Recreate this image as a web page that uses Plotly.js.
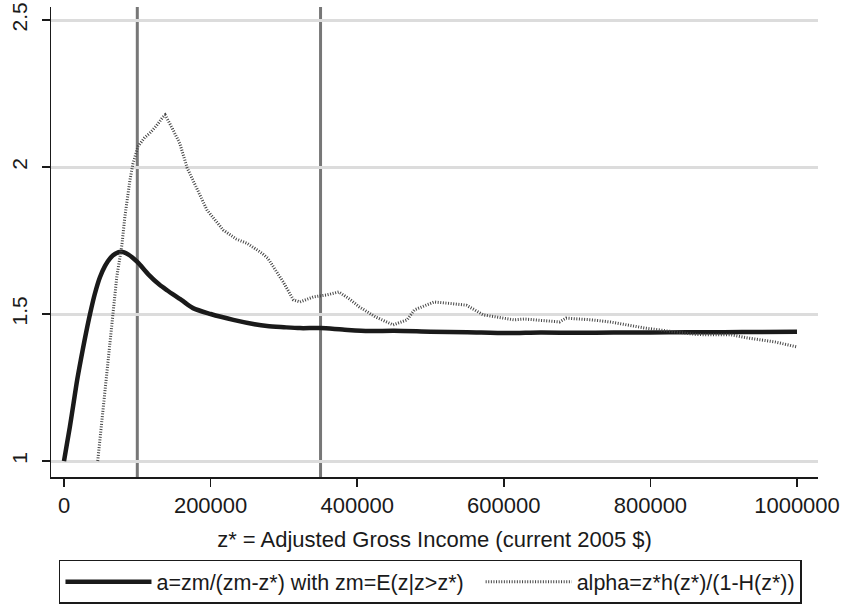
<!DOCTYPE html>
<html>
<head>
<meta charset="utf-8">
<script src="https://cdn.plot.ly/plotly-3.0.1.min.js"></script>
<style>html,body{margin:0;padding:0;background:#fff;}#chart{width:841px;height:604px;}</style>
</head>
<body>
<div id="chart"></div>
<script>
// Solid series: a = zm/(zm - z*)
const aX = [0, 4000, 8000, 13000, 18000, 23000, 28000, 35500, 42000, 49000, 56000, 63000, 70000, 78000, 88000, 100000, 115000, 130000, 141000, 160000, 176000, 200000, 231000, 260000, 277000, 300000, 322000, 350000, 380000, 416000, 450000, 500000, 550000, 605000, 650000, 700000, 750000, 800000, 850000, 900000, 950000, 1000000];
const aY = [1.0, 1.058, 1.116, 1.196, 1.276, 1.345, 1.41, 1.5, 1.568, 1.625, 1.664, 1.69, 1.705, 1.712, 1.702, 1.677, 1.635, 1.6, 1.58, 1.548, 1.52, 1.5, 1.48, 1.465, 1.459, 1.455, 1.452, 1.452, 1.447, 1.442, 1.443, 1.44, 1.438, 1.435, 1.437, 1.436, 1.437, 1.437, 1.438, 1.438, 1.439, 1.44];

// Dotted series: alpha = z* h(z*) / (1 - H(z*))
const alphaX = [46000, 53000, 60000, 67000, 72000, 79000, 83000, 90000, 94000, 101000, 110000, 117000, 126000, 135000, 138000, 148000, 158000, 168000, 181000, 195000, 217000, 235000, 250000, 262000, 270000, 278000, 286000, 299000, 313000, 322000, 340000, 359000, 375000, 390000, 403000, 425000, 449000, 468000, 478000, 505000, 530000, 549000, 572000, 614000, 628000, 650000, 676000, 685000, 720000, 745000, 793000, 830000, 864000, 911000, 934000, 970000, 1000000];
const alphaY = [1.0, 1.17, 1.34, 1.5, 1.626, 1.735, 1.83, 1.956, 2.01, 2.07, 2.1, 2.115, 2.14, 2.17, 2.177, 2.13, 2.08, 1.997, 1.93, 1.854, 1.786, 1.755, 1.74, 1.72, 1.707, 1.69, 1.66, 1.609, 1.548, 1.541, 1.558, 1.565, 1.575, 1.55, 1.524, 1.49, 1.463, 1.48, 1.514, 1.541, 1.535, 1.53, 1.497, 1.48, 1.483, 1.478, 1.473, 1.486, 1.48, 1.473, 1.452, 1.44, 1.43, 1.429, 1.418, 1.405, 1.388];

// Reference thresholds (vertical lines)
const thresholds = [100000, 350000];

// Axis ticks
const xTickVals = [0, 200000, 400000, 600000, 800000, 1000000];
const xTickText = ["0", "200000", "400000", "600000", "800000", "1000000"];
const yTickVals = [1, 1.5, 2, 2.5];
const yTickText = ["1", "1.5", "2", "2.5"];

const seriesNames = ["a=zm/(zm-z*) with zm=E(z|z>z*)\u00a0\u00a0", "alpha=z*h(z*)/(1-H(z*))"];

const FONT = "Liberation Sans, Arial, sans-serif";
const INK = "#1a1a1a";

const traces = [
  {
    x: aX, y: aY, type: "scatter", mode: "lines", name: seriesNames[0],
    line: {color: INK, width: 4.5, shape: "spline", smoothing: 0.8}
  },
  {
    x: alphaX, y: alphaY, type: "scatter", mode: "lines", name: seriesNames[1],
    line: {color: "#444444", width: 3, dash: "1px,1.6px"}
  }
];

const shapes = thresholds.map(v => ({
  type: "line", xref: "x", yref: "paper", x0: v, x1: v, y0: 0, y1: 1,
  line: {color: "#777777", width: 3}, layer: "below"
}));

const layout = {
  width: 841, height: 604,
  margin: {l: 51, r: 23, t: 7, b: 127, autoexpand: false},
  paper_bgcolor: "#ffffff", plot_bgcolor: "#ffffff",
  font: {family: FONT, size: 22, color: INK},
  showlegend: true,
  xaxis: {
    range: [-17735, 1028650],
    tickvals: xTickVals, ticktext: xTickText,
    showgrid: false, zeroline: false,
    showline: true, linecolor: INK, linewidth: 1.5,
    ticks: "outside", ticklen: 8, tickwidth: 1.5, tickcolor: INK,
    tickfont: {family: FONT, size: 22, color: INK},
    automargin: false,
    title: {text: "z* = Adjusted Gross Income (current 2005 $)", font: {family: FONT, size: 22, color: INK}, standoff: 14}
  },
  yaxis: {
    range: [0.9456, 2.5442],
    tickvals: yTickVals, ticktext: yTickText,
    tickangle: -90,
    ticklabelstandoff: 6,
    showgrid: true, gridcolor: "#dcdcdc", gridwidth: 3,
    zeroline: false,
    showline: true, linecolor: INK, linewidth: 1.5,
    ticks: "outside", ticklen: 8, tickwidth: 1.5, tickcolor: INK,
    tickfont: {family: FONT, size: 21, color: INK},
    automargin: false
  },
  legend: {
    orientation: "h",
    x: 0.0104, xanchor: "left",
    y: -0.176, yanchor: "top",
    bordercolor: INK, borderwidth: 1.5,
    font: {family: FONT, size: 21.5, color: INK},
    itemwidth: 86,
    tracegroupgap: 0
  },
  shapes: shapes
};

Plotly.newPlot("chart", traces, layout, {displayModeBar: false, staticPlot: true});
</script>
</body>
</html>
